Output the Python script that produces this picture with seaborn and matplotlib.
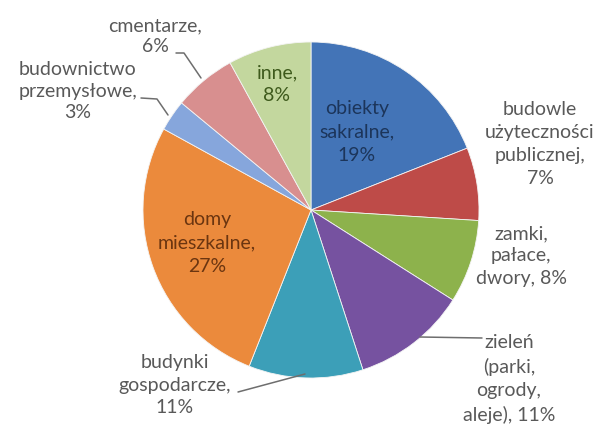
import matplotlib
matplotlib.use("Agg")
import matplotlib.pyplot as plt
import seaborn as sns

# Shares of monument types (percent), clockwise from 12 o'clock
names = ["obiekty\nsakralne", "budowle\nużyteczności\npublicznej", "zamki,\npałace,\ndwory",
         "zieleń\n(parki,\nogrody,\naleje)", "budynki\ngospodarcze", "domy\nmieszkalne",
         "budownictwo\nprzemysłowe", "cmentarze", "inne"]
shares = [19, 7, 8, 11, 11, 27, 3, 6, 8]
# how the percentage is attached to the name
joiners = ["\n", "\n", " ", " ", "\n", "\n", "\n", "\n", "\n"]

colors = ["#4374B7", "#BE4B48", "#8DB24C", "#7652A0", "#3C9FB8",
          "#EB8A3C", "#86A6DC", "#D88F8F", "#C3D79E"]
text_colors = ["#1C355A", "#595959", "#595959", "#595959", "#595959",
               "#6B3510", "#595959", "#595959", "#3E5A1C"]

W, H = 605, 425
sns.set_theme(style="white")
plt.rcParams["font.family"] = ["Lato", "DejaVu Sans"]

fig = plt.figure(figsize=(W / 100, H / 100), dpi=100)
ax = fig.add_axes([0, 0, 1, 1])

cx, cy, r = 311, 210, 168
ax.pie(shares, colors=colors, startangle=90, counterclock=False,
       center=(cx, H - cy), radius=r,
       wedgeprops=dict(linewidth=0.6, edgecolor="#f4f4f4"))
ax.set_xlim(0, W)
ax.set_ylim(0, H)
ax.set_aspect("equal")
ax.axis("off")

# label anchor points in pixel space (x, y from top)
label_pos = [(357, 132), (540, 144), (521, 256), (509, 379), (175, 385),
             (207, 243), (78, 91), (155, 36), (277, 84)]
# line pitch per label, tighter for the small top-left ones
spacings = [1.45, 1.45, 1.4, 1.45, 1.4, 1.45, 1.3, 1.3, 1.4]

for name, share, j, (x, y), tc, ls in zip(names, shares, joiners, label_pos,
                                          text_colors, spacings):
    ax.text(x, H - y, f"{name},{j}{share}%", ha="center", va="center",
            multialignment="center", fontsize=14, color=tc, linespacing=ls)

# leader lines
leaders = [
    [(176, 53), (184, 53), (201, 78)],
    [(141, 98), (157, 99), (168, 115)],
    [(482, 338), (420, 337)],
    [(238, 392), (305, 374)],
]
for pts in leaders:
    xs = [p[0] for p in pts]
    ys = [H - p[1] for p in pts]
    ax.plot(xs, ys, color="#6e6e6e", lw=1.1)

fig.savefig("out.png", dpi=100)
